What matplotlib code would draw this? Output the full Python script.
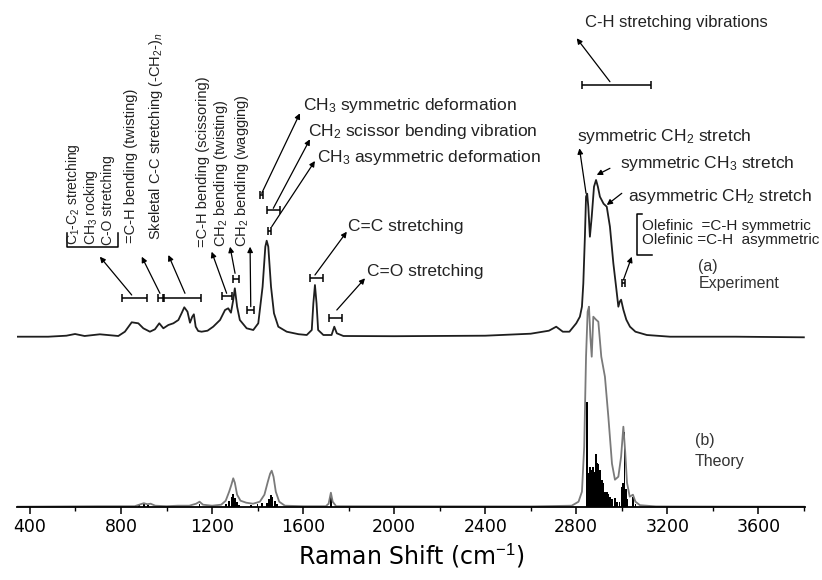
import numpy as np
import matplotlib.pyplot as plt

plt.rcParams['mathtext.fontset'] = 'custom'
plt.rcParams['mathtext.rm'] = 'Liberation Sans'
plt.rcParams['mathtext.it'] = 'Liberation Sans:italic'

# Experimental Raman spectrum (a): shift (cm-1) and intensity (arb.)
exp_shift = [345, 480, 560, 598, 640, 707, 788, 817, 847, 876, 898, 927, 949, 968, 986,
             1008, 1030, 1052, 1066, 1078, 1092, 1103, 1113, 1120, 1128, 1139, 1154, 1180,
             1205, 1235, 1257, 1271, 1283, 1293, 1300, 1310, 1322, 1352, 1381, 1403, 1422,
             1434, 1440, 1447, 1459, 1472, 1491, 1528, 1580, 1616, 1638, 1645, 1652, 1659,
             1666, 1689, 1725, 1737, 1748, 1777, 2000, 2400, 2600, 2680, 2712, 2741, 2770,
             2800, 2816, 2825, 2831, 2838, 2843, 2848, 2853, 2860, 2868, 2878, 2887, 2895,
             2904, 2920, 2934, 2948, 2963, 2975, 2985, 2991, 2997, 3007, 3020, 3036, 3060,
             3110, 3212, 3500, 3800]
exp_int = [0, 0, 1, 2.7, 0.7, 2.4, 0.7, 5, 14.4, 13.4, 8.4, 5, 7.4, 13.4, 8.4,
           11.7, 13.4, 16.7, 23.4, 29.4, 25, 14, 20, 22.4, 10, 5.7, 5, 6,
           10, 16.7, 26.7, 28.4, 24, 36.7, 48.4, 30, 16.7, 8.4, 6.7, 13.4, 50,
           90, 96, 90, 50, 23.4, 10, 5, 2.5, 1.7, 6.7, 33.4, 51.7, 33.4,
           6.7, 1.7, 1.7, 10, 3.4, 0.7, 0.5, 1, 3, 6, 10, 5, 5,
           13.4, 20, 30, 53, 100, 140, 143, 130, 100, 120, 150, 156.7, 150,
           140, 133, 130, 110, 73.4, 50, 30, 35, 37, 27, 17, 10, 5,
           1.7, 0, 0, -0.6]

# Theoretical spectrum (b): broadened envelope
th_shift = [345, 700, 860, 880, 900, 915, 930, 950, 1000, 1050, 1100, 1130, 1145, 1160,
            1200, 1240, 1260, 1275, 1285, 1293, 1300, 1310, 1325, 1350, 1380, 1410, 1430,
            1445, 1455, 1462, 1470, 1480, 1495, 1520, 1600, 1700, 1712, 1722, 1730, 1745,
            2600, 2780, 2810, 2825, 2835, 2843, 2850, 2856, 2862, 2868, 2875, 2887, 2897,
            2910, 2926, 2941, 2957, 2970, 2985, 2997, 3007, 3015, 3023, 3035, 3049, 3060,
            3080, 3150, 3800]
th_int = [0, 0.5, 0.5, 2, 3.5, 2.5, 3, 1, 0.5, 1, 1, 3, 5, 2,
          1, 2, 6, 15, 22, 28.4, 24, 12, 6, 4, 3, 5, 12,
          25, 33, 36, 30, 15, 5, 1, 0.5, 0.5, 3, 14, 5, 0.5,
          0.3, 1, 5, 15, 60, 150, 195, 200, 170, 150, 190, 187, 185,
          150, 130, 90, 43, 27, 30, 50, 80, 55, 24, 10, 12, 5,
          1.5, 0.3, 0]

# Theoretical spectrum (b): calculated Raman activities (sticks)
stick_shift = [880, 900, 920, 1145, 1262, 1275, 1285, 1292, 1300, 1310, 1320, 1370, 1400,
               1420, 1440, 1450, 1458, 1465, 1475, 1485, 1722,
               2846, 2856, 2862, 2868, 2875, 2881, 2887, 2893, 2897, 2904, 2912, 2920,
               2926, 2934, 2941, 2950, 2957, 2970, 2978, 2990, 3000, 3007, 3012, 3018,
               3025, 3049, 3060]
stick_int = [2, 3, 2, 3, 3, 6, 10, 13, 9, 5, 2, 2, 3,
             4, 4, 8, 12, 10, 6, 3, 10,
             105, 34, 40, 37, 40, 35, 53, 44, 43, 37, 27, 24,
             15, 15, 13, 10, 8, 9, 5, 5, 20, 24, 75, 18,
             8, 10, 3]

x_ticks = [400, 800, 1200, 1600, 2000, 2400, 2800, 3200, 3600]
exp_offset = 170

fig = plt.figure(figsize=(8.22, 5.80), dpi=100)
ax = fig.add_axes([17 / 822, 73.3 / 580, 788 / 822, 506.7 / 580])

ax.plot(exp_shift, np.array(exp_int) + exp_offset, color='#1e1e1e', lw=1.3)
ax.plot(th_shift, th_int, color='#7a7a7a', lw=1.3)
ax.bar(stick_shift, stick_int, width=8, color='black')

ax.set_xlim(343, 3805)
ax.set_ylim(0, 506.7)
for s in ['left', 'right', 'top']:
    ax.spines[s].set_visible(False)
ax.spines['bottom'].set_linewidth(1.3)
ax.set_yticks([])
ax.set_xticks(x_ticks)
ax.set_xticks(np.arange(600, 3801, 400), minor=True)
ax.tick_params(axis='x', which='major', length=5, width=1.1, labelsize=12.5, pad=3)
ax.tick_params(axis='x', which='minor', length=3, width=1.0)
ax.set_xlabel('Raman Shift (cm$^{-1}$)', fontsize=17, labelpad=4,
              fontfamily='DejaVu Sans')
for lab in ax.get_xticklabels():
    lab.set_fontfamily('DejaVu Sans')

fkw = dict(fontsize=12.5, color='#222222', family='Liberation Sans')
vkw = dict(fontsize=10.5, color='#222222', family='Liberation Sans')
okw = dict(fontsize=11, color='#222222', family='Liberation Sans')
lkw = dict(fontsize=11.5, color='#333333', family='Liberation Sans')
akw = dict(arrowstyle='-|>', lw=0.9, color='black', mutation_scale=8, shrinkA=0, shrinkB=0)


def bar(xc, half, y):
    ax.errorbar([xc], [y], xerr=[half], fmt='none', ecolor='black', elinewidth=1.1,
                capsize=3, capthick=1.1)


def arrow(tail, head):
    ax.annotate('', xy=head, xytext=tail, arrowprops=akw)


# left group of vertical labels (bracketed group first)
group = [
    (591, 'C$_1$-C$_2$ stretching'),
    (667, 'CH$_3$ rocking'),
    (743, 'C-O stretching'),
]
for xv, s in group:
    ax.text(xv, 262, s, rotation=90, ha='center', va='bottom', fontsize=10,
            color='#222222', family='Liberation Sans')
ax.plot([562, 562, 787, 787], [274, 260, 260, 274], color='black', lw=1.1)

vlabels = [
    (844, 263.7, '=C-H bending (twisting)'),
    (954, 266.7, 'Skeletal C-C stretching (-CH$_2$-)$_n$'),
    (1160, 259.7, '=C-H bending (scissoring)'),
    (1239, 259.7, 'CH$_2$ bending (twisting)'),
    (1331, 259.7, 'CH$_2$ bending (wagging)'),
]
for xv, yb, s in vlabels:
    ax.text(xv, yb, s, rotation=90, ha='center', va='bottom', **vkw)

bar(859, 53.6, 208.4); arrow((847, 211.7), (707, 250))
bar(976, 12.5, 208.4); arrow((971, 213.4), (891, 250))
bar(1068, 82, 208.4); arrow((1081, 213.4), (1008, 251.7))
bar(1264, 22, 210.7); arrow((1264, 213.4), (1198, 255))
bar(1306, 13, 227.4); arrow((1301, 233.4), (1279, 260))
bar(1368, 16, 196.7); arrow((1370, 200), (1367, 260))

# CH deformations and double bonds
bar(1418, 7, 311.7); arrow((1418, 313.4), (1586, 393.4))
bar(1469, 29, 296.7); arrow((1469, 298.4), (1630, 367.4))
bar(1454, 7, 276); arrow((1462, 280), (1652, 345.7))
bar(1659, 29, 228.4); arrow((1652, 231.7), (1792, 275))
bar(1742, 27, 188.4); arrow((1748, 196.7), (1872, 228.4))
ax.text(1600, 401.7, 'CH$_3$ symmetric deformation', va='center', **fkw)
ax.text(1622, 375, 'CH$_2$ scissor bending vibration', va='center', **fkw)
ax.text(1660, 349.7, 'CH$_3$ asymmetric deformation', va='center', **fkw)
ax.text(1797, 280, 'C=C stretching', va='center', **fkw)
ax.text(1879, 235, 'C=O stretching', va='center', **fkw)

# C-H stretching region
ax.text(2839, 484.7, 'C-H stretching vibrations', va='center', fontsize=12,
        color='#222222', family='Liberation Sans')
bar(2977, 150, 421.7); arrow((2948, 425), (2802, 468.4))
ax.text(2802, 370, 'symmetric CH$_2$ stretch', va='center', **fkw)
arrow((2843, 313.4), (2814, 358.4))
ax.text(2992, 343.4, 'symmetric CH$_3$ stretch', va='center', **fkw)
arrow((2948, 338.4), (2890, 331.7))
ax.text(3029, 310, 'asymmetric CH$_2$ stretch', va='center', **fkw)
arrow((3000, 313.4), (2934, 301.7))
ax.plot([3088, 3066, 3066, 3132], [292.5, 292.5, 251.7, 251.7], color='black', lw=1.1)
ax.text(3088, 281, 'Olefinic  =C-H symmetric', va='center', **okw)
ax.text(3088, 266.5, 'Olefinic =C-H  asymmetric', va='center', clip_on=False, **okw)
bar(3007, 6, 223.4); arrow((3007, 226.7), (3044, 250))

ax.text(3337, 240, '(a)', va='center', **lkw)
ax.text(3337, 223.4, 'Experiment', va='center', **lkw)
ax.text(3322, 66.7, '(b)', va='center', **lkw)
ax.text(3322, 45, 'Theory', va='center', **lkw)

fig.savefig('out.png', dpi=100)
